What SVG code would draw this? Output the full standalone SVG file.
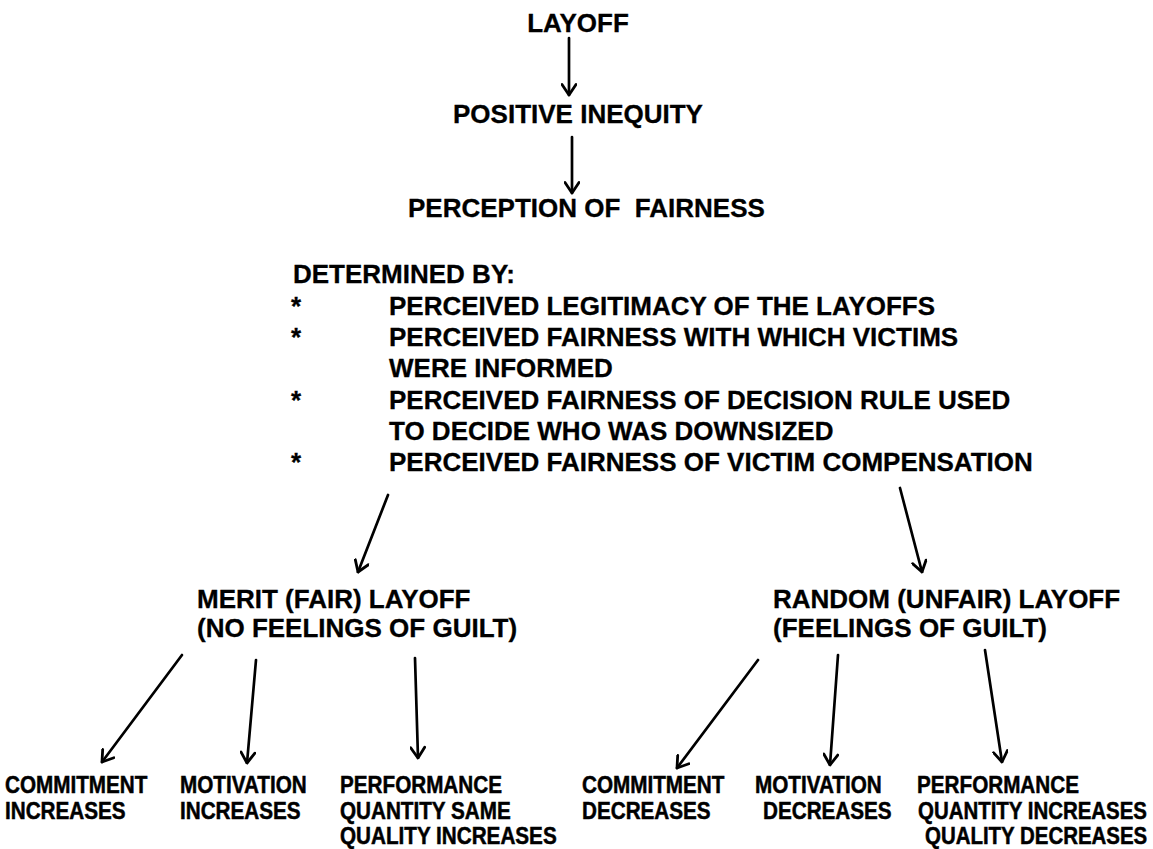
<svg xmlns="http://www.w3.org/2000/svg" width="1153" height="849" viewBox="0 0 1153 849">
  <style>
    .t { font-family: "Liberation Sans", Arial, sans-serif; font-weight: bold; font-size: 26px; fill: #000; stroke: #000; stroke-width: 0.3px; }
    .s { font-family: "Liberation Sans", Arial, sans-serif; font-weight: bold; font-size: 23.5px; fill: #000; stroke: #000; stroke-width: 0.5px; }
    .c { fill: none; stroke: #000; stroke-width: 2.7; stroke-linecap: round; }
  </style>
  <defs>
    <marker id="ah" viewBox="0 0 16 16" refX="14.5" refY="8" markerWidth="16" markerHeight="16" orient="auto" markerUnits="userSpaceOnUse">
      <path d="M4,1 L14.5,8 L4,15" fill="none" stroke="#000" stroke-width="2.8" stroke-linecap="round" stroke-linejoin="round"/>
    </marker>
  </defs>
  <rect width="1153" height="849" fill="#fff"/>

  <g id="connectors">
    <line class="c" x1="569" y1="38" x2="569" y2="95" marker-end="url(#ah)"/>
    <line class="c" x1="572" y1="137" x2="572" y2="193" marker-end="url(#ah)"/>
    <line class="c" x1="388" y1="495" x2="358" y2="572" marker-end="url(#ah)"/>
    <line class="c" x1="900" y1="488" x2="922" y2="572" marker-end="url(#ah)"/>
    <line class="c" x1="182" y1="655" x2="102" y2="762" marker-end="url(#ah)"/>
    <line class="c" x1="256" y1="660" x2="247" y2="763" marker-end="url(#ah)"/>
    <line class="c" x1="415" y1="658" x2="418" y2="758" marker-end="url(#ah)"/>
    <line class="c" x1="758" y1="660" x2="677" y2="768" marker-end="url(#ah)"/>
    <line class="c" x1="838" y1="655" x2="830" y2="765" marker-end="url(#ah)"/>
    <line class="c" x1="985" y1="650" x2="1002" y2="762" marker-end="url(#ah)"/>
  </g>

  <g id="layoff">
    <text class="t" x="578" y="32" text-anchor="middle">LAYOFF</text>
  </g>
  <g id="positive-inequity">
    <text class="t" x="578" y="123" text-anchor="middle">POSITIVE INEQUITY</text>
  </g>
  <g id="perception">
    <text class="t" x="408" y="217" xml:space="preserve">PERCEPTION OF  FAIRNESS</text>
  </g>

  <g id="determined-by">
    <text class="t" x="293" y="283">DETERMINED BY:</text>
    <text class="t" x="291" y="314.5">*</text>
    <text class="t" x="389" y="314.5">PERCEIVED LEGITIMACY OF THE LAYOFFS</text>
    <text class="t" x="291" y="346">*</text>
    <text class="t" x="389" y="346">PERCEIVED FAIRNESS WITH WHICH VICTIMS</text>
    <text class="t" x="389" y="377">WERE INFORMED</text>
    <text class="t" x="291" y="408.5">*</text>
    <text class="t" x="389" y="408.5">PERCEIVED FAIRNESS OF DECISION RULE USED</text>
    <text class="t" x="389" y="440">TO DECIDE WHO WAS DOWNSIZED</text>
    <text class="t" x="291" y="471">*</text>
    <text class="t" x="389" y="471">PERCEIVED FAIRNESS OF VICTIM COMPENSATION</text>
  </g>

  <g id="merit">
    <text class="t" x="197" y="608">MERIT (FAIR) LAYOFF</text>
    <text class="t" x="197" y="637">(NO FEELINGS OF GUILT)</text>
  </g>
  <g id="random">
    <text class="t" x="773" y="608">RANDOM (UNFAIR) LAYOFF</text>
    <text class="t" x="773" y="637">(FEELINGS OF GUILT)</text>
  </g>

  <g id="commitment-increases">
    <text class="s" transform="translate(5 793) scale(0.88 1)">COMMITMENT</text>
    <text class="s" transform="translate(5 819) scale(0.88 1)">INCREASES</text>
  </g>
  <g id="motivation-increases">
    <text class="s" transform="translate(180 793) scale(0.88 1)">MOTIVATION</text>
    <text class="s" transform="translate(180 819) scale(0.88 1)">INCREASES</text>
  </g>
  <g id="performance-merit">
    <text class="s" transform="translate(340 793) scale(0.88 1)">PERFORMANCE</text>
    <text class="s" transform="translate(340 819) scale(0.88 1)">QUANTITY SAME</text>
    <text class="s" transform="translate(340 844) scale(0.88 1)">QUALITY INCREASES</text>
  </g>
  <g id="commitment-decreases">
    <text class="s" transform="translate(582 793) scale(0.88 1)">COMMITMENT</text>
    <text class="s" transform="translate(582 819) scale(0.88 1)">DECREASES</text>
  </g>
  <g id="motivation-decreases">
    <text class="s" transform="translate(755 793) scale(0.88 1)">MOTIVATION</text>
    <text class="s" transform="translate(763 819) scale(0.88 1)">DECREASES</text>
  </g>
  <g id="performance-random">
    <text class="s" transform="translate(917 793) scale(0.88 1)">PERFORMANCE</text>
    <text class="s" transform="translate(918 819) scale(0.87 1)">QUANTITY INCREASES</text>
    <text class="s" transform="translate(925 844) scale(0.87 1)">QUALITY DECREASES</text>
  </g>
</svg>
